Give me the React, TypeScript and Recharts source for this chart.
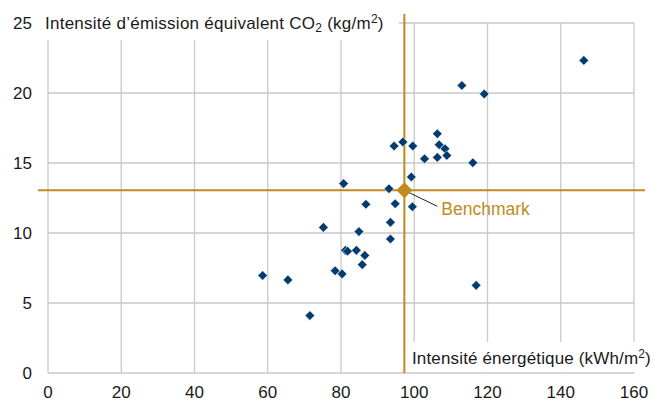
import React from 'react';
import { ScatterChart, Scatter, XAxis, YAxis, CartesianGrid, ReferenceLine } from 'recharts';

const energyIntensity = [58.6, 65.5, 71.5, 75.2, 78.4, 80.3, 80.7, 81.2, 81.8, 84.2, 84.9, 85.8, 86.5, 86.8, 93.1, 93.5, 93.5, 94.5, 94.8, 96.9, 99.2, 99.5, 99.6, 102.8, 106.3, 106.3, 106.8, 108.4, 108.9, 113.0, 116.0, 116.9, 119.1, 146.3];
const emissionIntensity = [6.96, 6.65, 4.1, 10.4, 7.3, 7.08, 13.53, 8.76, 8.7, 8.76, 10.1, 7.74, 8.4, 12.05, 13.16, 10.76, 9.57, 16.21, 12.09, 16.5, 14.0, 11.88, 16.21, 15.3, 15.4, 17.09, 16.3, 16.02, 15.54, 20.54, 15.02, 6.26, 19.93, 22.33];

const benchmarkX = 97.3;
const benchmarkY = 13.05;
const benchmarkLabel = 'Benchmark';

const xTicks = [0, 20, 40, 60, 80, 100, 120, 140, 160];
const yTicks = [0, 5, 10, 15, 20, 25];

const points = energyIntensity.map((x, i) => ({ x, y: emissionIntensity[i] }));
const benchmark = [{ x: benchmarkX, y: benchmarkY }];

const NAVY = '#033b6e';
const GOLD = '#c18a1c';
const FONT = '"Liberation Sans", Arial, Helvetica, sans-serif';

const Diamond = (props: any) => {
  const { cx, cy } = props;
  const r = 4.8;
  return (
    <polygon
      points={`${cx},${cy - r} ${cx + r},${cy} ${cx},${cy + r} ${cx - r},${cy}`}
      fill={NAVY}
      stroke="#ffffff"
      strokeWidth={0.5}
    />
  );
};

const BenchmarkShape = (props: any) => {
  const { cx, cy } = props;
  const r = 8;
  return (
    <g>
      <line x1={cx + 2} y1={cy + 1} x2={cx + 33} y2={cy + 16} stroke="#222" strokeWidth={1} />
      <polygon
        points={`${cx},${cy - r} ${cx + r},${cy} ${cx},${cy + r} ${cx - r},${cy}`}
        fill={GOLD}
      />
      <text x={cx + 37} y={cy + 25} fill={GOLD} fontSize={17.5} fontFamily={FONT}>
        {benchmarkLabel}
      </text>
    </g>
  );
};

const VLine = (props: any) => {
  const { x1, y1, x2, y2 } = props;
  const top = Math.min(y1, y2);
  const bottom = Math.max(y1, y2);
  return <line x1={x1} x2={x2} y1={top - 9} y2={bottom} stroke={GOLD} strokeWidth={2} />;
};

const HLine = (props: any) => {
  const { x1, y1, x2, y2 } = props;
  const left = Math.min(x1, x2);
  const right = Math.max(x1, x2);
  return <line x1={left - 10} x2={right + 11} y1={y1} y2={y2} stroke={GOLD} strokeWidth={2} />;
};

export default function App() {
  return (
    <div style={{ position: 'absolute', left: 0, top: 0, width: 654, height: 403, background: '#fff' }}>
      <ScatterChart width={654} height={403} margin={{ top: 23, right: 20, bottom: 0, left: 0 }}>
        <CartesianGrid stroke="#c9c9c9" strokeWidth={1.3} />
        <XAxis
          type="number"
          dataKey="x"
          domain={[0, 160]}
          ticks={xTicks}
          height={30}
          axisLine={false}
          tickLine={false}
          tickSize={0}
          tickMargin={13}
          interval={0}
          tick={{ fill: '#1a1a1a', fontSize: 17, fontFamily: FONT }}
        />
        <YAxis
          type="number"
          dataKey="y"
          domain={[0, 25]}
          ticks={yTicks}
          width={48}
          axisLine={false}
          tickLine={false}
          tickSize={0}
          tickMargin={16}
          interval={0}
          tick={{ fill: '#1a1a1a', fontSize: 17, fontFamily: FONT }}
        />
        <ReferenceLine x={benchmarkX} shape={VLine} ifOverflow="visible" />
        <ReferenceLine y={benchmarkY} shape={HLine} ifOverflow="visible" />
        <Scatter data={points} shape={Diamond} isAnimationActive={false} />
        <Scatter data={benchmark} shape={BenchmarkShape} isAnimationActive={false} />
      </ScatterChart>
      <div
        style={{
          position: 'absolute',
          left: 43,
          top: 0,
          width: 356,
          height: 40,
          background: '#fff',
          fontFamily: FONT,
          fontSize: 17,
          color: '#1a1a1a',
          boxSizing: 'border-box',
          paddingTop: 14,
          paddingLeft: 2,
          lineHeight: '20px',
          whiteSpace: 'nowrap',
          letterSpacing: 0.25,
        }}
      >
        Intensité d’émission équivalent CO<sub style={{ fontSize: 12, verticalAlign: -3, lineHeight: 0 }}>2</sub> (kg/m
        <sup style={{ fontSize: 12, verticalAlign: 6, lineHeight: 0 }}>2</sup>)
      </div>
      <div
        style={{
          position: 'absolute',
          left: 408,
          top: 342,
          width: 246,
          height: 30,
          background: '#fff',
          fontFamily: FONT,
          fontSize: 17,
          color: '#1a1a1a',
          boxSizing: 'border-box',
          paddingTop: 7,
          paddingLeft: 4,
          lineHeight: '20px',
          whiteSpace: 'nowrap',
          letterSpacing: 0.15,
        }}
      >
        Intensité énergétique (kWh/m<sup style={{ fontSize: 12, verticalAlign: 6, lineHeight: 0 }}>2</sup>)
      </div>
    </div>
  );
}
